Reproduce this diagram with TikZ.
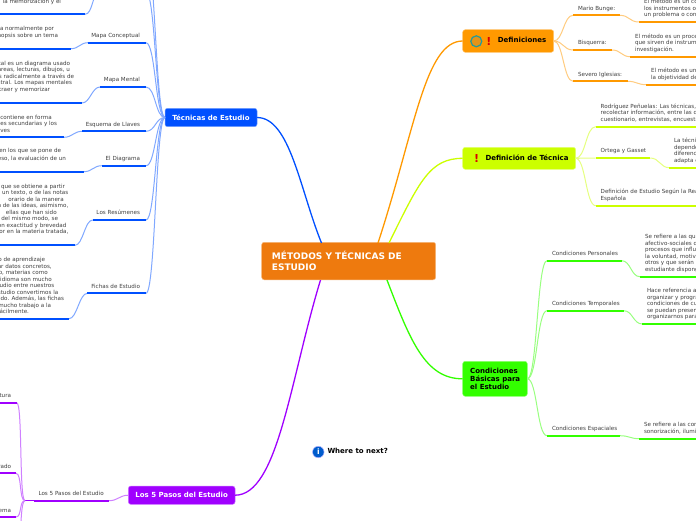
\documentclass[tikz,border=0pt]{standalone}
\usepackage{fontspec}
\setmainfont{DejaVu Sans}
\definecolor{cCenter}{HTML}{EE7A0E}
\definecolor{cBlue}{HTML}{0050FF}
\definecolor{cPurple}{HTML}{A000FF}
\definecolor{cOrange}{HTML}{FF9900}
\definecolor{cLime}{HTML}{CCFF00}
\definecolor{cGreen}{HTML}{33FF00}
\definecolor{cTxt}{HTML}{404040}
\tikzset{
  base/.style={inner sep=0pt,outer sep=0pt,text height=4.3pt,text depth=1.2pt,text=cTxt,font=\fontsize{5.6}{7}\selectfont},
  tl/.style={base,anchor=west},
  tr/.style={base,anchor=east},
  hub/.style={draw=#1!55!white,line width=.5pt,fill=#1,rounded corners=2.5pt,inner sep=0pt,outer sep=0pt,font=\bfseries\fontsize{7}{8.3}\selectfont},
  bar/.style={draw=#1,line width=2pt},
  main/.style={draw=#1,line width=1.3pt},
  link/.style={draw=#1!50!white,line width=1pt},
  lft/.style={out=180,in=0,distance=#1},
  rgt/.style={out=0,in=180,distance=#1},
}
\begin{document}
\begin{tikzpicture}[x=1pt,y=-1pt]
\useasboundingbox (0,0) rectangle (696,520);
\clip (0,0) rectangle (696,520);
\fill[white] (0,0) rectangle (696,520);

% ---- hubs
\node[hub=cCenter,minimum width=174pt,minimum height=37.5pt] (center) at (348.7,261) {};
\node[anchor=west,inner sep=0pt,text=white,align=left,font=\bfseries\fontsize{9}{11}\selectfont] (centerT) at (271.7,261.2) {MÉTODOS Y TÉCNICAS DE\\ESTUDIO};
\node[hub=cBlue,minimum width=92pt,minimum height=18.4pt,text=white] (tec) at (211,117.5) {Técnicas de Estudio};
\node[hub=cPurple,minimum width=106.7pt,minimum height=18.3pt,text=white] (pasos) at (181.7,495.2) {Los 5 Pasos del Estudio};
\node[hub=cOrange,minimum width=91pt,minimum height=22.6pt] (defi) at (508.2,41) {};
\node[hub=cLime,minimum width=113pt,minimum height=22pt] (deft) at (519.2,158.3) {};
\node[hub=cGreen,minimum width=64.6pt,minimum height=35pt] (cond) at (495,378.8) {};
\node[anchor=west,inner sep=0pt,font=\bfseries\fontsize{7}{8.3}\selectfont,text height=5pt,text depth=1.4pt] (defiT) at (497.7,41) {Definiciones};
\node[anchor=west,inner sep=0pt,font=\bfseries\fontsize{7}{8.3}\selectfont,text height=5pt,text depth=1.4pt] (deftT) at (485.3,158.5) {Definición de Técnica};
\node[anchor=west,inner sep=0pt,align=left,font=\bfseries\fontsize{7}{8.3}\selectfont] (condT) at (470,379) {Condiciones\\Básicas para\\el Estudio};

% ---- icons
\node[circle,draw=teal!70!cyan!70!gray,line width=1.2pt,fill=cOrange!80!gray,minimum size=11pt,inner sep=0pt] (ring) at (476.3,41.3) {};
\node[inner sep=0pt,text=red!85!black,font=\bfseries\fontsize{11}{11}\selectfont] (ex1) at (489,41) {!};
\node[inner sep=0pt,text=red!85!black,font=\bfseries\fontsize{11}{11}\selectfont] (ex2) at (476.7,158.5) {!};
\node[circle,fill=blue!55!cyan!80!black,draw=blue!30!white,line width=.5pt,minimum size=11.5pt,inner sep=0pt,text=white,font=\bfseries\fontsize{7.5}{8}\selectfont] (info) at (318.3,452) {i};
\node[anchor=west,inner sep=0pt,text height=5pt,text depth=1.4pt,font=\bfseries\fontsize{7}{8.3}\selectfont] (next) at (327.3,452) {Where to next?};

% ---- main connectors
\draw[main=cBlue] (tec.east) .. controls (290,117.5) and (300,190) .. (321.5,243);
\draw[main=cPurple] (320.5,280) .. controls (290,380) and (278,495.2) .. (pasos.east);
\draw[main=cOrange] (378,243) .. controls (415,130) and (425,41) .. (defi.west);
\draw[main=cLime] (389,243) .. controls (420,180) and (430,158.5) .. (deft.west);
\draw[main=cGreen] (387,280) .. controls (410,340) and (425,379) .. (cond.west);

% ---- Técnicas de Estudio
\coordinate (a0L) at (100,-8); \coordinate (a0R) at (146,-8);
\coordinate (b0L) at (100,-45); \coordinate (b0R) at (146,-45);
\coordinate (a0sL) at (0,14.3); \coordinate (a0sR) at (85,14.3);
\coordinate (a1L) at (88,42.7); \coordinate (a1R) at (146,42.7);
\coordinate (a1sL) at (0,48.7); \coordinate (a1sR) at (71,48.7);
\coordinate (a2L) at (100,87); \coordinate (a2R) at (146,87);
\coordinate (a2sL) at (0,103); \coordinate (a2sR) at (82,103);
\coordinate (a3L) at (82,131.3); \coordinate (a3R) at (146,131.3);
\coordinate (a3sL) at (0,137.3); \coordinate (a3sR) at (64,137.3);
\coordinate (a4L) at (101.7,165.7); \coordinate (a4R) at (146,165.7);
\coordinate (a4sL) at (0,171.7); \coordinate (a4sR) at (84,171.7);
\coordinate (a5L) at (92.7,220); \coordinate (a5R) at (146,220);
\coordinate (a5sL) at (0,245.3); \coordinate (a5sR) at (75,245.3);
\coordinate (a6L) at (87.3,293.3); \coordinate (a6R) at (146,293.3);
\coordinate (a6sL) at (0,318.7); \coordinate (a6sR) at (69,318.7);
\foreach \n in {a0,b0,a1,a2,a3,a4,a5,a6}{
  \draw[link=cBlue] (tec.west) to[lft=9.5pt] (\n R);
}
\foreach \n in {a0,a1,a2,a3,a4,a5,a6}{
  \draw[link=cBlue] (\n L) to[lft=8pt] (\n sR);
  \draw[bar=cBlue] (\n L) -- (\n R);
  \draw[bar=cBlue] (\n sL) -- (\n sR);
}

\node[tr] (l1) at (140,35.7) {Mapa Conceptual};
\node[tr] (l2) at (140,80) {Mapa Mental};
\node[tr] (l3) at (140,125) {Esquema de Llaves};
\node[tr] (l4) at (140,159) {El Diagrama};
\node[tr] (l5) at (140,213) {Los Resúmenes};
\node[tr] (l6) at (140,287) {Fichas de Estudio};

\node[tr] (t0a) at (61,2) {la memorización y el};
\node[tr] (t1a) at (54,29) {la normalmente por};
\node[tr] (t1b) at (58,36) {nopsis sobre un tema};
\node[tr] (t2a) at (70,63.7) {tal es un diagrama usado};
\node[tr] (t2b) at (70,70.3) {areas, lecturas, dibujos, u};
\node[tr] (t2c) at (74,77) {s radicalmente a través de};
\node[tr] (t2d) at (72,83.3) {ntral. Los mapas mentales};
\node[tr] (t2e) at (50,90) {traer y memorizar};
\node[tr] (t3a) at (51.7,118) {contiene en forma};
\node[tr] (t3b) at (57,124.3) {ses secundarias y los};
\node[tr] (t3c) at (10,131) {ves};
\node[tr] (t4a) at (61,151) {en los que se pone de};
\node[tr] (t4b) at (66,159) {eso, la evaluación de un};
\node[tr] (t5a) at (65,186.7) {que se obtiene a partir};
\node[tr] (t5b) at (68.3,193.3) {un texto, o de las notas};
\node[tr] (t5c) at (63.7,199.7) {orario de la manera};
\node[tr] (t5d) at (68.3,206.3) {n de las ideas, asimismo,};
\node[tr] (t5e) at (56.7,213) {ellas que han sido};
\node[tr] (t5f) at (58,219.3) {del mismo modo, se};
\node[tr] (t5g) at (66.3,226) {on exactitud y brevedad};
\node[tr] (t5h) at (68.3,232.3) {or en la materia tratada,};
\node[tr] (t6a) at (45,260) {o de aprendizaje};
\node[tr] (t6b) at (51.7,267) {ar datos concretos,};
\node[tr] (t6c) at (47.7,273.3) {o, materias como};
\node[tr] (t6d) at (51.7,280) {idioma son mucho};
\node[tr] (t6e) at (54.3,286.3) {udio entre nuestros};
\node[tr] (t6f) at (58.3,292.7) {studio convertimos la};
\node[tr] (t6g) at (64,299.3) {ido. Además, las fichas};
\node[tr] (t6h) at (51,306) {mucho trabajo a la};
\node[tr] (t6i) at (29,312) {fácilmente.};

% ---- Los 5 Pasos
\coordinate (p0L) at (34,500.7); \coordinate (p0R) at (109,500.7);
\coordinate (p0j) at (25,500.7);
\coordinate (p1R) at (16.7,402.7); \coordinate (p1L) at (0,402.7);
\coordinate (p2R) at (16,473.3); \coordinate (p2L) at (0,473.3);
\coordinate (p3R) at (16,517); \coordinate (p3L) at (0,517);
\coordinate (p4R) at (16,560);
\draw[link=cPurple] (pasos.west) to[lft=9pt] (p0R);
\draw[bar=cPurple] (p0L) -- (p0R);
\draw[draw=cPurple,line width=1pt] (p0j) -- (p0L);
\foreach \n in {p1,p2,p3,p4}{
  \draw[link=cPurple] (p0j) to[lft=6pt] (\n R);
}
\foreach \n in {p1,p2,p3}{
  \draw[bar=cPurple] (\n L) -- (\n R);
}
\node[tr] (l7) at (103.7,494) {Los 5 Pasos del Estudio};
\node[tr] (l8) at (11,396) {tura};
\node[tr] (l9) at (11,467) {rado};
\node[tr] (l10) at (11,511) {ema};

% ---- Definiciones
\coordinate (o1L) at (573,15.3); \coordinate (o1R) at (620,15.3);
\coordinate (o1sL) at (638.7,22); \coordinate (o1sR) at (696,22);
\coordinate (o2L) at (573,50); \coordinate (o2R) at (612,50);
\coordinate (o2sL) at (630.3,56.7); \coordinate (o2sR) at (696,56.7);
\coordinate (o3L) at (573,81.3); \coordinate (o3R) at (627.7,81.3);
\coordinate (o3sL) at (646.3,84.7); \coordinate (o3sR) at (696,84.7);
\foreach \n in {o1,o2,o3}{
  \draw[link=cOrange] (defi.east) to[rgt=9.5pt] (\n L);
  \draw[link=cOrange] (\n R) to[rgt=9pt] (\n sL);
  \draw[bar=cOrange] (\n L) -- (\n R);
  \draw[bar=cOrange] (\n sL) -- (\n sR);
}
\node[tl] (r1) at (578,9) {Mario Bunge:};
\node[tl] (r2) at (578,43) {Bisquerra:};
\node[tl] (r3) at (578,75) {Severo Iglesias:};
\node[tl] (r1a) at (644,2) {El método es un conjunto};
\node[tl] (r1b) at (644,8.7) {los instrumentos o técnicas};
\node[tl] (r1c) at (644,15) {un problema o conjunto};
\node[tl] (r2a) at (635,36.7) {El método es un proceso};
\node[tl] (r2b) at (635,43) {que sirven de instrumento};
\node[tl] (r2c) at (635,50) {investigación.};
\node[tl] (r3a) at (651,71) {El método es un};
\node[tl] (r3b) at (651,78) {la objetividad de};

% ---- Definición de Técnica
\coordinate (q1L) at (595.7,126.7); \coordinate (q1R) at (696,126.7);
\coordinate (q2L) at (595.7,158); \coordinate (q2R) at (650.3,158);
\coordinate (q2sL) at (669.3,167.7); \coordinate (q2sR) at (696,167.7);
\coordinate (q3L) at (595.7,205.7); \coordinate (q3R) at (696,205.7);
\foreach \n in {q1,q2,q3}{
  \draw[link=cLime] (deft.east) to[rgt=10pt] (\n L);
  \draw[bar=cLime] (\n L) -- (\n R);
}
\draw[link=cLime] (q2R) to[rgt=9pt] (q2sL);
\draw[bar=cLime] (q2sL) -- (q2sR);
\node[tl] (s1a) at (600.7,106.7) {Rodríguez Peñuelas: Las técnicas,};
\node[tl] (s1b) at (600.7,113.3) {recolectar información, entre las que};
\node[tl] (s1c) at (600.7,120) {cuestionario, entrevistas, encuestas};
\node[tl] (s2) at (600.7,151) {Ortega y Gasset};
\node[tl] (s2a) at (674,140.7) {La técnica};
\node[tl] (s2b) at (674,147.7) {depende};
\node[tl] (s2c) at (674,154) {diferencia};
\node[tl] (s2d) at (674,160.7) {adapta el};
\node[tl] (s3a) at (600.7,192) {Definición de Estudio Según la Real};
\node[tl] (s3b) at (600.7,198.7) {Española};

% ---- Condiciones
\coordinate (g1L) at (547,260.7); \coordinate (g1R) at (621.7,260.7);
\coordinate (g1sL) at (640,276.7); \coordinate (g1sR) at (696,276.7);
\coordinate (g2L) at (547,310.7); \coordinate (g2R) at (623.7,310.7);
\coordinate (g2sL) at (642.3,324); \coordinate (g2sR) at (696,324);
\coordinate (g3L) at (547,435.7); \coordinate (g3R) at (620,435.7);
\coordinate (g3sL) at (639.3,438.7); \coordinate (g3sR) at (696,438.7);
\foreach \n in {g1,g2,g3}{
  \draw[link=cGreen] (cond.east) to[rgt=10pt] (\n L);
  \draw[link=cGreen] (\n R) to[rgt=9pt] (\n sL);
  \draw[bar=cGreen] (\n L) -- (\n R);
  \draw[bar=cGreen] (\n sL) -- (\n sR);
}
\node[tl] (u1) at (552,254) {Condiciones Personales};
\node[tl] (u2) at (552,304) {Condiciones Temporales};
\node[tl] (u3) at (552,429) {Condiciones Espaciales};
\node[tl] (u1a) at (645,237) {Se refiere a las que};
\node[tl] (u1b) at (645,244) {afectivo-sociales de};
\node[tl] (u1c) at (645,250.3) {procesos que influyen};
\node[tl] (u1d) at (645,257) {la voluntad, motivación};
\node[tl] (u1e) at (645,263.3) {otros y que serán};
\node[tl] (u1f) at (645,270) {estudiante disponga};
\node[tl] (u2a) at (647,291) {Hace referencia a};
\node[tl] (u2b) at (647,298) {organizar y programar};
\node[tl] (u2c) at (647,304.3) {condiciones de cuando};
\node[tl] (u2d) at (647,311) {se puedan presentar};
\node[tl] (u2e) at (647,317.3) {organizarnos para};
\node[tl] (u3a) at (644,425) {Se refiere a las condiciones};
\node[tl] (u3b) at (644,432) {sonorización, iluminación};
\end{tikzpicture}
\end{document}
